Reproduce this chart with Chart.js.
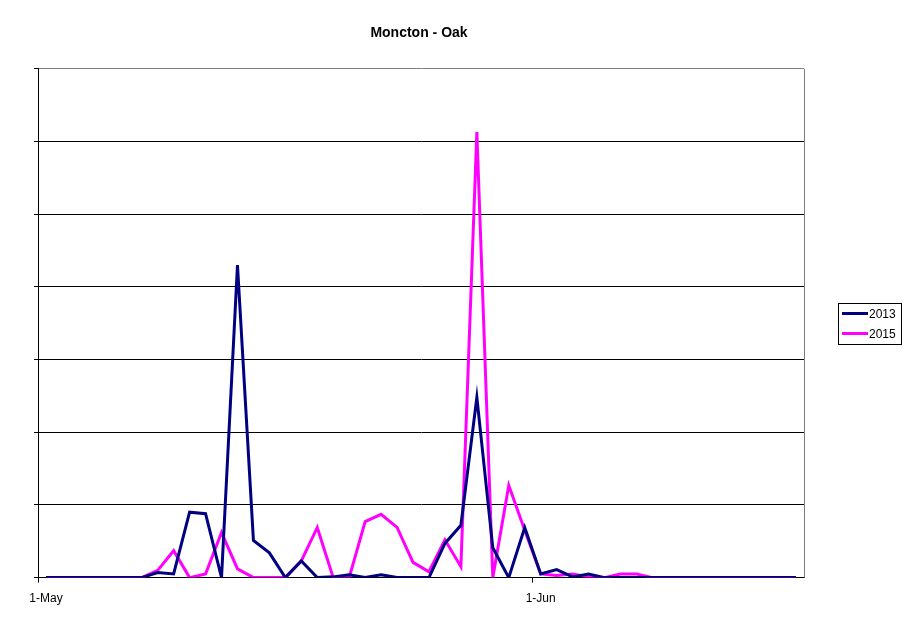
<!DOCTYPE html>
<html>
<head>
<meta charset="utf-8">
<script src="https://cdn.jsdelivr.net/npm/chart.js@4.4.1/dist/chart.umd.min.js"></script>
<style>
  html, body { margin: 0; padding: 0; background: #fff; }
  #wrap { width: 911px; height: 623px; position: relative; }
</style>
</head>
<body>
<div id="wrap"><canvas id="grafico"></canvas></div>
<script>
// 1-May .. 17-Jun
const dias = [];
for (let d = 1; d <= 31; d++) dias.push(d + '-May');
for (let d = 1; d <= 17; d++) dias.push(d + '-Jun');

const rotulosX = ['1-May', '1-Jun'];
const series = ['2013', '2015'];
const cores = ['#000080', '#FF00FF'];

const valores2013 = [
  0, 0, 0, 0, 0, 0, 0, 0.7, 0.5, 9.0,
  8.8, 0, 43.0, 5.1, 3.4, 0, 2.3, 0, 0.1, 0.4,
  0, 0.4, 0, 0, 0, 4.7, 7.2, 24.8, 4.1, 0,
  6.9, 0.5, 1.1, 0.1, 0.5, 0, 0, 0, 0, 0,
  0, 0, 0, 0, 0, 0, 0, 0
];
const valores2015 = [
  0, 0, 0, 0, 0, 0, 0, 1.0, 3.7, 0,
  0.5, 6.2, 1.2, 0, 0, 0, 2.3, 6.9, 0, 0,
  7.7, 8.7, 6.9, 2.1, 0.8, 5.2, 1.5, 61.3, 0, 12.7,
  6.5, 0.5, 0.3, 0.5, 0.1, 0, 0.5, 0.5, 0, 0,
  0, 0, 0, 0, 0, 0, 0, 0
];

const yMax = 70;
const yPasso = 10;

// moldura cinza + legenda desenhadas a mao
const extras = {
  id: 'extras',
  afterDraw(chart) {
    const c = chart.ctx;
    const a = chart.chartArea;
    c.save();
    c.strokeStyle = '#808080';
    c.lineWidth = 1;
    c.beginPath();
    c.moveTo(Math.round(a.right) + 0.5, a.top);
    c.lineTo(Math.round(a.right) + 0.5, a.bottom);
    c.stroke();

    // legenda
    const lx = 838, ly = 303, lw = 63, lh = 41;
    c.fillStyle = '#fff';
    c.fillRect(lx, ly, lw, lh);
    c.strokeStyle = '#000';
    c.strokeRect(lx + 0.5, ly + 0.5, lw, lh);
    c.font = '12px "Liberation Sans", Arial, sans-serif';
    c.textBaseline = 'middle';
    series.forEach((nome, i) => {
      const y = ly + 10.5 + i * 20;
      c.strokeStyle = cores[i];
      c.lineWidth = 3;
      c.beginPath();
      c.moveTo(lx + 4, y);
      c.lineTo(lx + 30, y);
      c.stroke();
      c.fillStyle = '#000';
      c.fillText(nome, lx + 31, y + 1);
    });
    c.restore();
  }
};

new Chart(document.getElementById('grafico'), {
  type: 'line',
  data: {
    labels: dias,
    datasets: [
      { label: series[0], data: valores2013, borderColor: cores[0], backgroundColor: cores[0] },
      { label: series[1], data: valores2015, borderColor: cores[1], backgroundColor: cores[1] }
    ]
  },
  options: {
    responsive: true,
    maintainAspectRatio: false,
    animation: false,
    events: [],
    layout: { padding: { left: 34, right: 107, top: 0, bottom: 8 } },
    elements: {
      line: { borderWidth: 3, tension: 0 },
      point: { radius: 0 }
    },
    scales: {
      x: {
        type: 'category',
        offset: true,
        border: { color: '#000', width: 1 },
        grid: {
          offset: true,
          drawOnChartArea: false,
          tickLength: 5,
          tickColor: (ctx) => (ctx.index === 0 || ctx.index === 31) ? '#000' : 'rgba(0,0,0,0)'
        },
        ticks: {
          autoSkip: false,
          maxRotation: 0,
          color: '#000',
          padding: 9,
          font: { family: '"Liberation Sans", Arial, sans-serif', size: 12 },
          callback: function (v, i) {
            const r = dias[i];
            return rotulosX.includes(r) ? r : '';
          }
        }
      },
      y: {
        min: 0,
        max: yMax,
        border: { color: '#000', width: 1 },
        grid: {
          color: (ctx) => ctx.tick && ctx.tick.value === yMax ? '#808080' : '#000',
          tickColor: '#000',
          tickLength: 4
        },
        ticks: { stepSize: yPasso, display: false }
      }
    },
    plugins: {
      legend: { display: false },
      tooltip: { enabled: false },
      title: {
        display: true,
        text: 'Moncton - Oak',
        color: '#000',
        font: { family: '"Liberation Sans", Arial, sans-serif', size: 14, weight: 'bold' },
        padding: { top: 25, bottom: 27 }
      }
    }
  },
  plugins: [extras]
});
</script>
</body>
</html>
